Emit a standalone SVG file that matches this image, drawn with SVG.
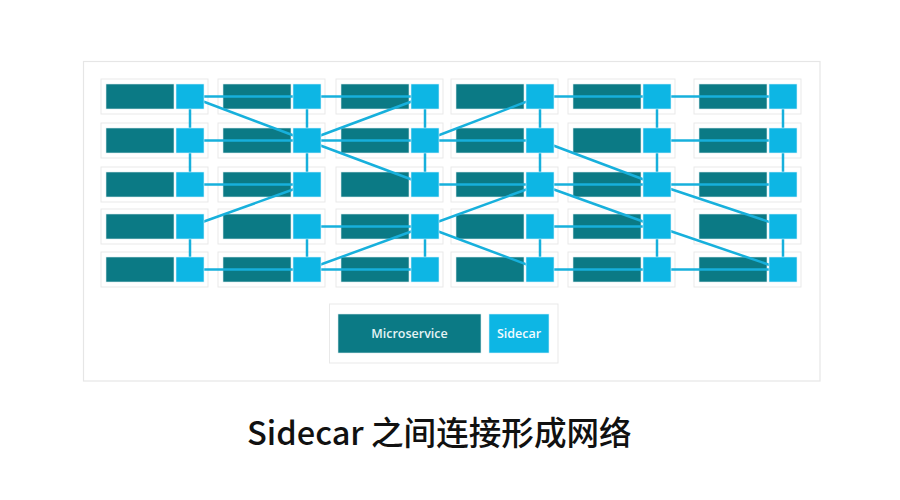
<svg xmlns="http://www.w3.org/2000/svg" width="900" height="500" viewBox="0 0 900 500">
<style>
.frame{fill:#ffffff;stroke:#e6e6e6;stroke-width:1.2}
.cell{fill:#ffffff;stroke:#e9e9e9;stroke-width:1}
.ms{fill:#0b7a85;stroke:#d9ecee;stroke-width:0.6}
.sc{fill:#0db6e4;stroke:#d6f1fa;stroke-width:0.6}
.conn line{stroke:#17b0dc;stroke-width:2.5;stroke-linecap:butt}
.lbl{font-family:"Open Sans","Liberation Sans",sans-serif;font-weight:600;font-size:12.5px;fill:#e3f3f5;text-anchor:middle}
.title{font-family:"Noto Sans CJK SC","Noto Sans",sans-serif;font-size:32.6px;font-weight:500;fill:#111111}
</style>
<rect width="900" height="500" fill="#ffffff"/>
<rect class="frame" x="83.5" y="61.5" width="736.5" height="319.5"/>
<g id="cells">
<rect class="cell" x="101" y="79" width="107" height="35"/><rect class="cell" x="218" y="79" width="107" height="35"/><rect class="cell" x="336" y="79" width="107" height="35"/><rect class="cell" x="451" y="79" width="107" height="35"/><rect class="cell" x="568" y="79" width="107" height="35"/><rect class="cell" x="694" y="79" width="107" height="35"/>
<rect class="cell" x="101" y="123" width="107" height="35"/><rect class="cell" x="218" y="123" width="107" height="35"/><rect class="cell" x="336" y="123" width="107" height="35"/><rect class="cell" x="451" y="123" width="107" height="35"/><rect class="cell" x="568" y="123" width="107" height="35"/><rect class="cell" x="694" y="123" width="107" height="35"/>
<rect class="cell" x="101" y="167" width="107" height="35"/><rect class="cell" x="218" y="167" width="107" height="35"/><rect class="cell" x="336" y="167" width="107" height="35"/><rect class="cell" x="451" y="167" width="107" height="35"/><rect class="cell" x="568" y="167" width="107" height="35"/><rect class="cell" x="694" y="167" width="107" height="35"/>
<rect class="cell" x="101" y="209" width="107" height="35"/><rect class="cell" x="218" y="209" width="107" height="35"/><rect class="cell" x="336" y="209" width="107" height="35"/><rect class="cell" x="451" y="209" width="107" height="35"/><rect class="cell" x="568" y="209" width="107" height="35"/><rect class="cell" x="694" y="209" width="107" height="35"/>
<rect class="cell" x="101" y="252" width="107" height="35"/><rect class="cell" x="218" y="252" width="107" height="35"/><rect class="cell" x="336" y="252" width="107" height="35"/><rect class="cell" x="451" y="252" width="107" height="35"/><rect class="cell" x="568" y="252" width="107" height="35"/><rect class="cell" x="694" y="252" width="107" height="35"/>
</g>
<g id="microservices">
<g id="ms-1-1"><rect class="ms" x="106" y="84" width="68" height="25"/></g><g id="ms-1-2"><rect class="ms" x="223" y="84" width="68" height="25"/></g><g id="ms-1-3"><rect class="ms" x="341" y="84" width="68" height="25"/></g><g id="ms-1-4"><rect class="ms" x="456" y="84" width="68" height="25"/></g><g id="ms-1-5"><rect class="ms" x="573" y="84" width="68" height="25"/></g><g id="ms-1-6"><rect class="ms" x="699" y="84" width="68" height="25"/></g>
<g id="ms-2-1"><rect class="ms" x="106" y="128" width="68" height="25"/></g><g id="ms-2-2"><rect class="ms" x="223" y="128" width="68" height="25"/></g><g id="ms-2-3"><rect class="ms" x="341" y="128" width="68" height="25"/></g><g id="ms-2-4"><rect class="ms" x="456" y="128" width="68" height="25"/></g><g id="ms-2-5"><rect class="ms" x="573" y="128" width="68" height="25"/></g><g id="ms-2-6"><rect class="ms" x="699" y="128" width="68" height="25"/></g>
<g id="ms-3-1"><rect class="ms" x="106" y="172" width="68" height="25"/></g><g id="ms-3-2"><rect class="ms" x="223" y="172" width="68" height="25"/></g><g id="ms-3-3"><rect class="ms" x="341" y="172" width="68" height="25"/></g><g id="ms-3-4"><rect class="ms" x="456" y="172" width="68" height="25"/></g><g id="ms-3-5"><rect class="ms" x="573" y="172" width="68" height="25"/></g><g id="ms-3-6"><rect class="ms" x="699" y="172" width="68" height="25"/></g>
<g id="ms-4-1"><rect class="ms" x="106" y="214" width="68" height="25"/></g><g id="ms-4-2"><rect class="ms" x="223" y="214" width="68" height="25"/></g><g id="ms-4-3"><rect class="ms" x="341" y="214" width="68" height="25"/></g><g id="ms-4-4"><rect class="ms" x="456" y="214" width="68" height="25"/></g><g id="ms-4-5"><rect class="ms" x="573" y="214" width="68" height="25"/></g><g id="ms-4-6"><rect class="ms" x="699" y="214" width="68" height="25"/></g>
<g id="ms-5-1"><rect class="ms" x="106" y="257" width="68" height="25"/></g><g id="ms-5-2"><rect class="ms" x="223" y="257" width="68" height="25"/></g><g id="ms-5-3"><rect class="ms" x="341" y="257" width="68" height="25"/></g><g id="ms-5-4"><rect class="ms" x="456" y="257" width="68" height="25"/></g><g id="ms-5-5"><rect class="ms" x="573" y="257" width="68" height="25"/></g><g id="ms-5-6"><rect class="ms" x="699" y="257" width="68" height="25"/></g>
</g>
<g id="connectors" class="conn">
<line x1="190" y1="96.5" x2="307" y2="96.5"/><line x1="307" y1="96.5" x2="425" y2="96.5"/><line x1="540" y1="96.5" x2="657" y2="96.5"/><line x1="657" y1="96.5" x2="783" y2="96.5"/>
<line x1="190" y1="140.5" x2="307" y2="140.5"/><line x1="307" y1="140.5" x2="425" y2="140.5"/><line x1="425" y1="140.5" x2="540" y2="140.5"/><line x1="657" y1="140.5" x2="783" y2="140.5"/>
<line x1="190" y1="184.5" x2="307" y2="184.5"/><line x1="425" y1="184.5" x2="540" y2="184.5"/><line x1="540" y1="184.5" x2="657" y2="184.5"/><line x1="657" y1="184.5" x2="783" y2="184.5"/>
<line x1="307" y1="226.5" x2="425" y2="226.5"/><line x1="540" y1="226.5" x2="657" y2="226.5"/>
<line x1="190" y1="269.5" x2="307" y2="269.5"/><line x1="307" y1="269.5" x2="425" y2="269.5"/><line x1="540" y1="269.5" x2="657" y2="269.5"/><line x1="657" y1="269.5" x2="783" y2="269.5"/>
<line x1="190" y1="96.5" x2="190" y2="184.5"/><line x1="307" y1="96.5" x2="307" y2="184.5"/><line x1="425" y1="96.5" x2="425" y2="184.5"/><line x1="540" y1="96.5" x2="540" y2="184.5"/><line x1="657" y1="96.5" x2="657" y2="184.5"/><line x1="783" y1="96.5" x2="783" y2="184.5"/>
<line x1="190" y1="226.5" x2="190" y2="269.5"/><line x1="307" y1="226.5" x2="307" y2="269.5"/><line x1="425" y1="226.5" x2="425" y2="269.5"/><line x1="540" y1="226.5" x2="540" y2="269.5"/><line x1="657" y1="226.5" x2="657" y2="269.5"/><line x1="783" y1="226.5" x2="783" y2="269.5"/>
<line x1="190" y1="96.5" x2="307" y2="140.5"/>
<line x1="307" y1="140.5" x2="425" y2="96.5"/>
<line x1="425" y1="140.5" x2="540" y2="96.5"/>
<line x1="307" y1="140.5" x2="425" y2="184.5"/>
<line x1="540" y1="140.5" x2="657" y2="184.5"/>
<line x1="540" y1="184.5" x2="657" y2="226.5"/>
<line x1="657" y1="184.5" x2="783" y2="226.5"/>
<line x1="425" y1="226.5" x2="540" y2="184.5"/>
<line x1="190" y1="226.5" x2="307" y2="184.5"/>
<line x1="307" y1="269.5" x2="425" y2="226.5"/>
<line x1="425" y1="226.5" x2="540" y2="269.5"/>
<line x1="657" y1="226.5" x2="783" y2="269.5"/>
</g>
<g id="sidecars">
<g id="sc-1-1"><rect class="sc" x="176" y="84" width="28" height="25"/></g><g id="sc-1-2"><rect class="sc" x="293" y="84" width="28" height="25"/></g><g id="sc-1-3"><rect class="sc" x="411" y="84" width="28" height="25"/></g><g id="sc-1-4"><rect class="sc" x="526" y="84" width="28" height="25"/></g><g id="sc-1-5"><rect class="sc" x="643" y="84" width="28" height="25"/></g><g id="sc-1-6"><rect class="sc" x="769" y="84" width="28" height="25"/></g>
<g id="sc-2-1"><rect class="sc" x="176" y="128" width="28" height="25"/></g><g id="sc-2-2"><rect class="sc" x="293" y="128" width="28" height="25"/></g><g id="sc-2-3"><rect class="sc" x="411" y="128" width="28" height="25"/></g><g id="sc-2-4"><rect class="sc" x="526" y="128" width="28" height="25"/></g><g id="sc-2-5"><rect class="sc" x="643" y="128" width="28" height="25"/></g><g id="sc-2-6"><rect class="sc" x="769" y="128" width="28" height="25"/></g>
<g id="sc-3-1"><rect class="sc" x="176" y="172" width="28" height="25"/></g><g id="sc-3-2"><rect class="sc" x="293" y="172" width="28" height="25"/></g><g id="sc-3-3"><rect class="sc" x="411" y="172" width="28" height="25"/></g><g id="sc-3-4"><rect class="sc" x="526" y="172" width="28" height="25"/></g><g id="sc-3-5"><rect class="sc" x="643" y="172" width="28" height="25"/></g><g id="sc-3-6"><rect class="sc" x="769" y="172" width="28" height="25"/></g>
<g id="sc-4-1"><rect class="sc" x="176" y="214" width="28" height="25"/></g><g id="sc-4-2"><rect class="sc" x="293" y="214" width="28" height="25"/></g><g id="sc-4-3"><rect class="sc" x="411" y="214" width="28" height="25"/></g><g id="sc-4-4"><rect class="sc" x="526" y="214" width="28" height="25"/></g><g id="sc-4-5"><rect class="sc" x="643" y="214" width="28" height="25"/></g><g id="sc-4-6"><rect class="sc" x="769" y="214" width="28" height="25"/></g>
<g id="sc-5-1"><rect class="sc" x="176" y="257" width="28" height="25"/></g><g id="sc-5-2"><rect class="sc" x="293" y="257" width="28" height="25"/></g><g id="sc-5-3"><rect class="sc" x="411" y="257" width="28" height="25"/></g><g id="sc-5-4"><rect class="sc" x="526" y="257" width="28" height="25"/></g><g id="sc-5-5"><rect class="sc" x="643" y="257" width="28" height="25"/></g><g id="sc-5-6"><rect class="sc" x="769" y="257" width="28" height="25"/></g>
</g>
<g id="legend">
<rect class="cell" x="329.5" y="304" width="228.5" height="59"/>
<g id="legend-microservice"><rect class="ms" x="338" y="314" width="143" height="39"/><text class="lbl" x="409.5" y="337.5">Microservice</text></g>
<g id="legend-sidecar"><rect class="sc" x="489" y="314" width="60" height="39"/><text class="lbl" x="519" y="337.5" style="fill:#f2fbff">Sidecar</text></g>
</g>
<text class="title" x="247" y="445">Sidecar 之间连接形成网络</text>
</svg>
